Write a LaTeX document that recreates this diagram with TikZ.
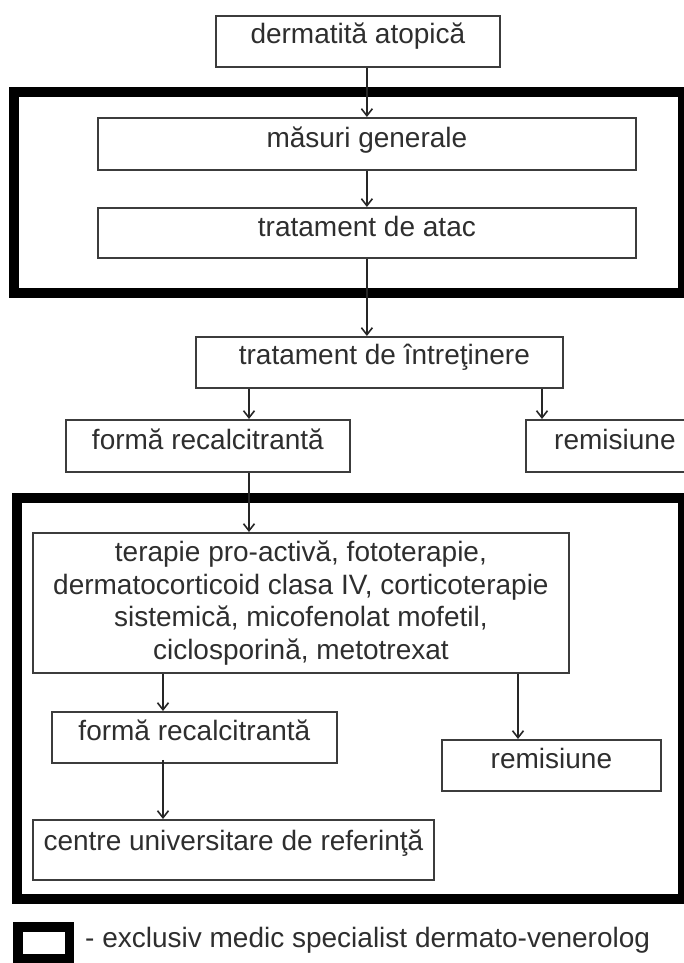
\documentclass[tikz,border=0pt]{standalone}
\usepackage{fontspec}
\setmainfont{Liberation Sans}
\usetikzlibrary{arrows.meta}
\definecolor{txtc}{HTML}{2E2E2E}
\definecolor{boxc}{HTML}{3C3C3C}
\tikzset{
  box/.style={draw=boxc, line width=1.8pt, rectangle, inner sep=0pt, anchor=north west,
    text=txtc, font=\fontsize{28}{32.5}\selectfont, align=center,
    text height=21pt, text depth=14pt},
  frame/.style={draw=black, line width=10pt},
  arr/.style={draw=black!85, line width=1.6pt, -{Straight Barb[length=7pt,width=11pt,line width=1.6pt]}},
}
\begin{document}
\begin{tikzpicture}[x=1pt,y=-1pt]
\useasboundingbox (0,0) rectangle (684,963);
\clip (0,0) rectangle (684,963);
% specialist frames
\draw[frame] (13.5,92.5) rectangle (683,292.5);
\draw[frame] (17,498) rectangle (682.5,898.5);
% boxes
\node[box, minimum width=284pt, minimum height=51pt, text height=20pt, text depth=15pt] (d) at (215,15) {dermatită atopică};
\node[box, minimum width=538pt, minimum height=52pt, text height=21.5pt, text depth=13.5pt] (m) at (97,117) {măsuri generale};
\node[box, minimum width=538pt, minimum height=50pt] (a) at (97,207) {tratament de atac};
\node[box, minimum width=367pt, minimum height=51pt, text height=20pt, text depth=15pt] (i) at (195,336) {\hspace*{10pt}tratament de întreţinere};
\node[box, minimum width=284pt, minimum height=52pt] (f1) at (65,419) {formă recalcitrantă};
\node[box, minimum width=178pt, minimum height=52pt] (r1) at (525,419) {remisiune};
\node[box, minimum width=536pt, minimum height=140pt, text height=, text depth=] (big) at (32,532)
  {terapie pro-activă, fototerapie,\\dermatocorticoid clasa IV, corticoterapie\\sistemică, micofenolat mofetil,\\ciclosporină, metotrexat};
\node[box, minimum width=285pt, minimum height=51pt] (f2) at (51,711) {formă recalcitrantă};
\node[box, minimum width=219pt, minimum height=51pt] (r2) at (441,739) {remisiune};
\node[box, minimum width=401pt, minimum height=60pt, text height=18.5pt, text depth=16.5pt] (c) at (32,819) {centre universitare de referinţă};
% connector x positions
\coordinate (xa) at (249,0);
\coordinate (xb) at (542,0);
\coordinate (xc) at (163,0);
\coordinate (xd) at (518,0);
% connectors
\draw[arr] (d.south -| m.north) -- (m.north);
\draw[arr] (m.south) -- (a.north);
\draw[arr] (a.south) -- (a.south |- i.north);
\draw[arr] (i.south -| xa) -- (f1.north -| xa);
\draw[arr] (i.south -| xb) -- (r1.north -| xb);
\draw[arr] (f1.south -| xa) -- (big.north -| xa);
\draw[arr] (big.south -| xc) -- (f2.north -| xc);
\draw[arr] (big.south -| xd) -- (r2.north -| xd);
\draw[arr] ([yshift=4pt]f2.south -| xc) -- (c.north -| xc);
% legend
\draw[draw=black, line width=9.5pt] (18,927) rectangle (69.5,958.5);
\node[anchor=base west, inner sep=0pt, text=txtc, font=\fontsize{28}{32.5}\selectfont] (leg) at (85,947) {- exclusiv medic specialist dermato-venerolog};
\end{tikzpicture}
\end{document}
